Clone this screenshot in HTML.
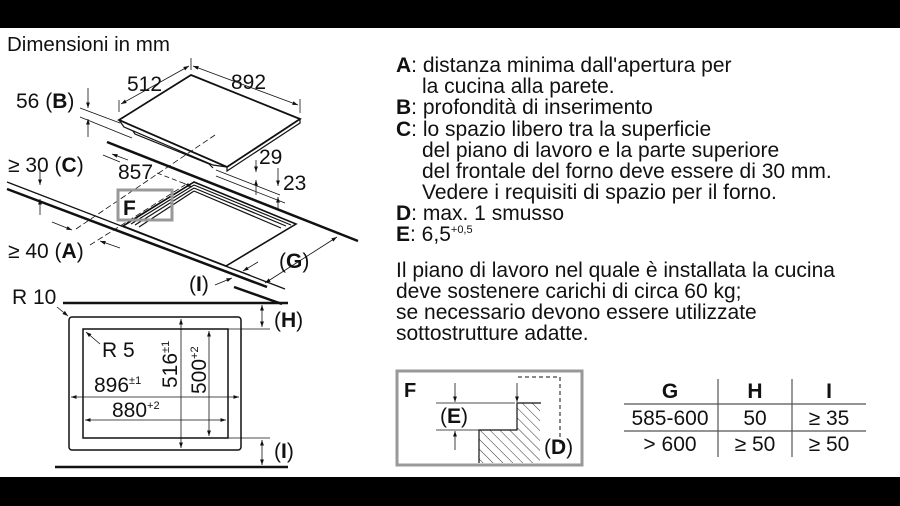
<!DOCTYPE html>
<html><head><meta charset="utf-8"><style>
html,body{margin:0;padding:0;background:#fff}
svg{display:block}
text{font-family:"Liberation Sans",Arial,sans-serif;fill:#111}
</style></head><body>
<svg width="900" height="506" viewBox="0 0 900 506" xmlns="http://www.w3.org/2000/svg">
<defs>
<marker id="ar" viewBox="0 0 10 10" refX="10" refY="5" markerWidth="7" markerHeight="7" orient="auto-start-reverse"><path d="M0,1.5 L10,5 L0,8.5 z" fill="#111"/></marker>
<pattern id="hatch" patternUnits="userSpaceOnUse" width="7" height="7" patternTransform="rotate(-45)"><line x1="0" y1="0" x2="0" y2="7" stroke="#333" stroke-width="1"/></pattern>
</defs>
<rect x="0" y="0" width="900" height="28" fill="#000"/>
<rect x="0" y="477" width="900" height="29" fill="#000"/>

<text x="7" y="51" font-size="20.5">Dimensioni in mm</text>
<g stroke="#111" fill="none">
<path d="M191,75 L300,119 L227,167 L119,120 Z" stroke-width="1.8"/>
<path d="M119,120 L124,127 L213,165 L227,167 M124,127 L133,131 L135,134 L209,164 L213,168" stroke-width="1.2"/>
<path d="M227,167 L227,171 L300,123 L300,119" stroke-width="1.2"/>
<line x1="107" y1="142" x2="358" y2="241" stroke-width="2.5"/>
<line x1="7" y1="182" x2="285" y2="289" stroke-width="1.3"/>
<line x1="7" y1="189" x2="267" y2="287" stroke-width="2.5"/>
<line x1="234" y1="287" x2="282" y2="304" stroke-width="2.5"/>
<path d="M194,182 L296,224 L226,266 L123,226 Z" stroke-width="1.6"/>
<path d="M194,185 L291,225 M194,188 L286,226 M194,191 L281,228 M194,182 L127,223 M194,185 L131,224 M194,188 L135,225 M194,191 L139,227" stroke-width="1.2"/>
<line x1="119" y1="112" x2="119" y2="100" stroke-width="0.8"/>
<line x1="300" y1="113" x2="300" y2="99" stroke-width="0.8"/>
<line x1="191" y1="70" x2="191" y2="58" stroke-width="0.8"/>
<line x1="121" y1="104" x2="189" y2="66" stroke-width="0.8" marker-start="url(#ar)" marker-end="url(#ar)"/>
<line x1="193" y1="66" x2="298" y2="105" stroke-width="0.8" marker-start="url(#ar)" marker-end="url(#ar)"/>
<line x1="80" y1="108" x2="120" y2="123" stroke-width="0.8"/>
<line x1="80" y1="117" x2="132" y2="138" stroke-width="0.8"/>
<line x1="88" y1="88" x2="88" y2="108" stroke-width="0.8" marker-end="url(#ar)"/>
<line x1="88" y1="137" x2="88" y2="119" stroke-width="0.8" marker-end="url(#ar)"/>
<line x1="40" y1="170" x2="40" y2="185" stroke-width="0.8" marker-end="url(#ar)"/>
<line x1="40" y1="215" x2="40" y2="199" stroke-width="0.8" marker-end="url(#ar)"/>
<line x1="103" y1="155" x2="120" y2="162" stroke-width="0.8"/>
<line x1="112" y1="154" x2="128" y2="160" stroke-width="0.8" marker-start="url(#ar)"/>
<line x1="157" y1="173" x2="183" y2="183" stroke-width="0.8" stroke-dasharray="5,3"/>
<line x1="183" y1="183" x2="192" y2="187" stroke-width="0.8" marker-end="url(#ar)"/>
<line x1="76" y1="229" x2="215" y2="135" stroke-width="0.8" stroke-dasharray="6,3"/>
<line x1="52" y1="222" x2="72" y2="230" stroke-width="0.8" marker-end="url(#ar)"/>
<line x1="90" y1="245" x2="185" y2="185" stroke-width="0.8" stroke-dasharray="6,3"/>
<line x1="120" y1="248" x2="100" y2="241" stroke-width="0.8" marker-end="url(#ar)"/>
<line x1="216" y1="170" x2="280" y2="195" stroke-width="0.8"/>
<line x1="216" y1="176" x2="285" y2="203" stroke-width="0.8"/>
<line x1="256" y1="160" x2="256" y2="172" stroke-width="0.8" marker-end="url(#ar)"/>
<line x1="256" y1="195" x2="256" y2="180" stroke-width="0.8" marker-end="url(#ar)"/>
<line x1="278" y1="168" x2="278" y2="186" stroke-width="0.8" marker-end="url(#ar)"/>
<line x1="278" y1="210" x2="278" y2="197" stroke-width="0.8" marker-end="url(#ar)"/>
<line x1="265" y1="283" x2="337" y2="237" stroke-width="0.8" marker-start="url(#ar)" marker-end="url(#ar)"/>
<line x1="226" y1="266" x2="250" y2="275" stroke-width="0.8"/>
<line x1="258" y1="262" x2="243" y2="271" stroke-width="0.8" marker-end="url(#ar)"/>
<line x1="215" y1="285" x2="232" y2="278" stroke-width="0.8" marker-end="url(#ar)"/>
</g>
<rect x="118" y="190" width="54" height="30" fill="none" stroke="#999" stroke-width="3"/>
<text x="123" y="215" font-size="21" font-weight="bold">F</text>
<text x="127" y="91" font-size="21">512</text>
<text x="231" y="89" font-size="21">892</text>
<text x="16" y="108" font-size="21">56 (<tspan font-weight="bold">B</tspan>)</text>
<text x="8" y="172" font-size="21">≥ 30 (<tspan font-weight="bold">C</tspan>)</text>
<text x="118" y="179" font-size="21">857</text>
<text x="259" y="164" font-size="21">29</text>
<text x="283" y="190" font-size="21">23</text>
<text x="8" y="258" font-size="21">≥ 40 (<tspan font-weight="bold">A</tspan>)</text>
<text x="279" y="268" font-size="21">(<tspan font-weight="bold">G</tspan>)</text>
<text x="189" y="291" font-size="21">(<tspan font-weight="bold">I</tspan>)</text>

<text x="12" y="304" font-size="21">R 10</text>
<g stroke="#111" fill="none">
<line x1="63" y1="303" x2="288" y2="303" stroke-width="2.5"/>
<line x1="55" y1="467" x2="288" y2="467" stroke-width="2.5"/>
<rect x="69" y="317" width="172" height="133" rx="3" stroke-width="1.5"/>
<rect x="83" y="329" width="145" height="109" stroke-width="1.5"/>
<line x1="57" y1="307" x2="68" y2="316" stroke-width="0.8" marker-end="url(#ar)"/>
<line x1="100" y1="344" x2="86" y2="332" stroke-width="0.8" marker-end="url(#ar)"/>
<line x1="181" y1="319" x2="181" y2="448" stroke-width="0.8" marker-start="url(#ar)" marker-end="url(#ar)"/>
<line x1="209" y1="331" x2="209" y2="436" stroke-width="0.8" marker-start="url(#ar)" marker-end="url(#ar)"/>
<line x1="71" y1="397" x2="239" y2="397" stroke-width="0.8" marker-start="url(#ar)" marker-end="url(#ar)"/>
<line x1="85" y1="420" x2="226" y2="420" stroke-width="0.8" marker-start="url(#ar)" marker-end="url(#ar)"/>
<line x1="228" y1="329" x2="270" y2="329" stroke-width="0.8"/>
<line x1="228" y1="438" x2="270" y2="438" stroke-width="0.8"/>
<line x1="262" y1="316" x2="262" y2="305" stroke-width="0.8" marker-end="url(#ar)"/>
<line x1="262" y1="316" x2="262" y2="327" stroke-width="0.8" marker-end="url(#ar)"/>
<line x1="262" y1="452" x2="262" y2="440" stroke-width="0.8" marker-end="url(#ar)"/>
<line x1="262" y1="452" x2="262" y2="465" stroke-width="0.8" marker-end="url(#ar)"/>
</g>
<text x="102" y="357" font-size="21">R 5</text>
<text x="94" y="392" font-size="21">896<tspan font-size="11" dy="-8">±1</tspan></text>
<text x="112" y="417" font-size="21">880<tspan font-size="11" dy="-8">+2</tspan></text>
<text transform="translate(177,388) rotate(-90)" font-size="21">516<tspan font-size="11" dy="-8">±1</tspan></text>
<text transform="translate(206,394) rotate(-90)" font-size="21">500<tspan font-size="11" dy="-8">+2</tspan></text>
<text x="274" y="327" font-size="21">(<tspan font-weight="bold">H</tspan>)</text>
<text x="274" y="458" font-size="21">(<tspan font-weight="bold">I</tspan>)</text>

<g font-size="21">
<text x="396" y="72"><tspan font-weight="bold">A</tspan>: distanza minima dall'apertura per</text>
<text x="422" y="93">la cucina alla parete.</text>
<text x="396" y="114"><tspan font-weight="bold">B</tspan>: profondità di inserimento</text>
<text x="396" y="136"><tspan font-weight="bold">C</tspan>: lo spazio libero tra la superficie</text>
<text x="422" y="157">del piano di lavoro e la parte superiore</text>
<text x="422" y="178">del frontale del forno deve essere di 30 mm.</text>
<text x="422" y="199">Vedere i requisiti di spazio per il forno.</text>
<text x="396" y="220"><tspan font-weight="bold">D</tspan>: max. 1 smusso</text>
<text x="396" y="241"><tspan font-weight="bold">E</tspan>: 6,5<tspan font-size="11" dy="-8">+0,5</tspan></text>
<text x="396" y="277">Il piano di lavoro nel quale è installata la cucina</text>
<text x="396" y="298">deve sostenere carichi di circa 60 kg;</text>
<text x="396" y="319">se necessario devono essere utilizzate</text>
<text x="396" y="340">sottostrutture adatte.</text>
</g>

<rect x="397" y="371" width="185" height="94" fill="none" stroke="#999" stroke-width="3"/>
<text x="404" y="397" font-size="20" font-weight="bold">F</text>
<path d="M479,463 L479,430 L517,430 L517,403 L540,403 L540,463 Z" fill="url(#hatch)" stroke="none"/>
<path d="M479,463 L479,430 L517,430 L517,403 L541,403" fill="none" stroke="#111" stroke-width="1.2"/>
<path d="M518,377 L560,377 L560,445" fill="none" stroke="#111" stroke-width="1" stroke-dasharray="4,3"/>
<g stroke="#111" stroke-width="0.8" fill="none">
<line x1="436" y1="403" x2="515" y2="403"/>
<line x1="436" y1="430" x2="479" y2="430"/>
<line x1="455" y1="383" x2="455" y2="402" marker-end="url(#ar)"/>
<line x1="455" y1="450" x2="455" y2="431" marker-end="url(#ar)"/>
<line x1="517" y1="383" x2="517" y2="402" marker-end="url(#ar)"/>
</g>
<text x="440" y="423" font-size="21">(<tspan font-weight="bold">E</tspan>)</text>
<text x="544" y="454" font-size="21">(<tspan font-weight="bold">D</tspan>)</text>

<g stroke="#555" stroke-width="1.2">
<line x1="624" y1="404" x2="866" y2="404"/>
<line x1="624" y1="431" x2="866" y2="431"/>
<line x1="718" y1="379" x2="718" y2="457"/>
<line x1="792" y1="379" x2="792" y2="457"/>
</g>
<g font-size="21" text-anchor="middle">
<text x="670" y="398" font-weight="bold">G</text>
<text x="755" y="398" font-weight="bold">H</text>
<text x="829" y="398" font-weight="bold">I</text>
<text x="670" y="425">585-600</text>
<text x="755" y="425">50</text>
<text x="829" y="425">≥ 35</text>
<text x="670" y="451">&gt; 600</text>
<text x="755" y="451">≥ 50</text>
<text x="829" y="451">≥ 50</text>
</g>
</svg>
</body></html>
